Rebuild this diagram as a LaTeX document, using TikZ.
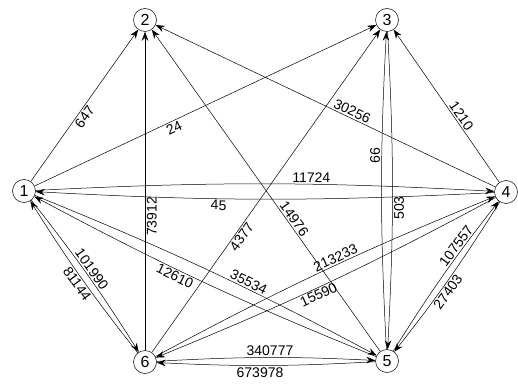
\documentclass[tikz,border=0pt]{standalone}
\usepackage{fontspec}
\setmainfont{Liberation Sans}
\usetikzlibrary{arrows.meta}
\begin{document}
\begin{tikzpicture}[x=1pt, y=1pt,
    vertex/.style={draw, circle, minimum size=23pt, inner sep=0pt, line width=0.5pt, font=\fontsize{16}{16}\selectfont},
    link/.style={-{Stealth[length=9pt, width=6.5pt]}, line width=0.5pt},
    wt/.style={sloped, inner sep=1.5pt, font=\fontsize{14}{14}\selectfont}]
    \useasboundingbox (0,0) rectangle (518,-387);

    % 顶点
    \node[vertex] (v1) at (24,-191) {1};
    \node[vertex] (v2) at (145,-20) {2};
    \node[vertex] (v3) at (387,-20) {3};
    \node[vertex] (v4) at (506,-192) {4};
    \node[vertex] (v5) at (387,-361) {5};
    \node[vertex] (v6) at (145,-362) {6};

    % 单向边
    \draw[link] (v1) -- node[wt, below, pos=0.45] {647} (v2);
    \draw[link] (v1) -- node[wt, below, pos=0.40] {24} (v3);
    \draw[link] (v6) -- node[wt, below, pos=0.42] {73912} (v2);
    \draw[link] (v5) -- node[wt, above, pos=0.40] {14976} (v2);
    \draw[link] (v4) -- node[wt, above, pos=0.43] {30256} (v2);
    \draw[link] (v6) -- node[wt, below, pos=0.37] {4377} (v3);
    \draw[link] (v4) -- node[wt, above, pos=0.41] {1210} (v3);

    % 双向边
    \draw[link] (v1) to[bend left=3] node[wt, above, pos=0.61] {11724} (v4);
    \draw[link] (v4) to[bend left=3] node[wt, below, pos=0.61] {45} (v1);
    \draw[link] (v1) to[bend left=3] node[wt, above, pos=0.49] {101990} (v6);
    \draw[link] (v6) to[bend left=3] node[wt, below, pos=0.49] {81144} (v1);
    \draw[link] (v1) to[bend left=3] node[wt, above, pos=0.62] {35534} (v5);
    \draw[link] (v5) to[bend left=3] node[wt, below, pos=0.58] {12610} (v1);
    \draw[link] (v3) to[bend left=3] node[wt, below, pos=0.56] {503} (v5);
    \draw[link] (v5) to[bend left=3] node[wt, above, pos=0.62] {66} (v3);
    \draw[link] (v6) to[bend left=3] node[wt, above, pos=0.55] {213233} (v4);
    \draw[link] (v4) to[bend left=3] node[wt, below, pos=0.54] {15590} (v6);
    \draw[link] (v5) to[bend left=3] node[wt, above, pos=0.68] {107557} (v4);
    \draw[link] (v4) to[bend left=3] node[wt, below, pos=0.57] {27403} (v5);
    \draw[link] (v6) to[bend left=3] node[wt, above, pos=0.52] {340777} (v5);
    \draw[link] (v5) to[bend left=3] node[wt, below, pos=0.53] {673978} (v6);
\end{tikzpicture}
\end{document}
